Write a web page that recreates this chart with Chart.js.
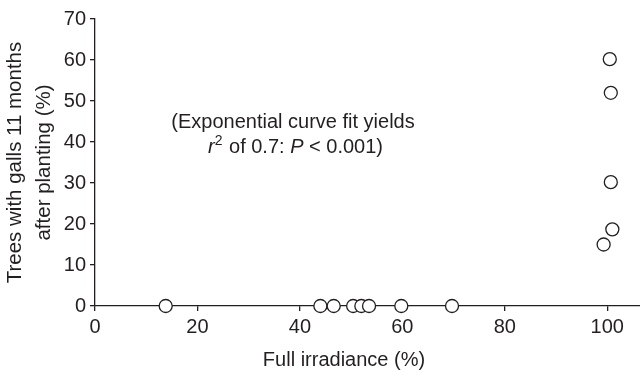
<!DOCTYPE html>
<html>
<head>
<meta charset="utf-8">
<script src="https://cdn.jsdelivr.net/npm/chart.js@4"></script>
<style>
  html, body { margin: 0; padding: 0; background: #fff; }
  #wrap { width: 640px; height: 371px; }
</style>
</head>
<body>
<div id="wrap"><canvas id="c" width="640" height="371"></canvas></div>
<script>
// Full irradiance (%) at each planting site
const irradiance = [13.8, 44.0, 46.6, 50.4, 52.0, 53.5, 59.8, 69.7, 100.5, 100.7, 100.7, 101.0, 99.3];
// Trees with galls 11 months after planting (%)
const gallPct    = [0, 0, 0, 0, 0, 0, 0, 0, 60.2, 52.0, 30.2, 18.7, 15.0];
const xTicks = [0, 20, 40, 60, 80, 100];
const yTicks = [0, 10, 20, 30, 40, 50, 60, 70];

const INK = '#231f20';
const FONT = 'Liberation Sans, Arial, Helvetica, sans-serif';

const points = irradiance.map((x, i) => ({ x: x, y: gallPct[i] }));

// Annotation text and x-axis title drawn on the canvas
const notes = {
  id: 'notes',
  afterDraw(chart) {
    const ctx = chart.ctx;
    ctx.save();
    ctx.fillStyle = INK;
    ctx.textBaseline = 'alphabetic';

    // line 1
    ctx.font = '20px ' + FONT;
    ctx.textAlign = 'center';
    ctx.fillText('(Exponential curve fit yields', 293, 128);

    // line 2: r² of 0.7: P < 0.001)
    const parts = [
      { t: 'r', f: 'italic 20px ' + FONT, dy: 0 },
      { t: '2', f: '14px ' + FONT, dy: -8 },
      { t: ' of 0.7: ', f: '20px ' + FONT, dy: 0 },
      { t: 'P', f: 'italic 20px ' + FONT, dy: 0 },
      { t: ' < 0.001)', f: '20px ' + FONT, dy: 0 }
    ];
    let x = 208;
    ctx.textAlign = 'left';
    parts.forEach(p => {
      ctx.font = p.f;
      ctx.fillText(p.t, x, 153 + p.dy);
      x += ctx.measureText(p.t).width + (p.t === '2' ? 1 : 0);
    });

    // x-axis title
    ctx.font = '20px ' + FONT;
    ctx.textAlign = 'center';
    ctx.fillText('Full irradiance (%)', 344, 366);
    ctx.restore();
  }
};

new Chart(document.getElementById('c'), {
  type: 'scatter',
  data: {
    datasets: [{
      data: points,
      pointRadius: 6.5,
      pointHoverRadius: 6.5,
      pointBorderWidth: 1.3,
      borderColor: INK,
      backgroundColor: '#ffffff',
      clip: false
    }]
  },
  options: {
    responsive: false,
    animation: false,
    events: [],
    layout: { autoPadding: false, padding: { top: 19, right: 0, left: 0, bottom: 0 } },
    plugins: { legend: { display: false }, tooltip: { enabled: false } },
    scales: {
      x: {
        type: 'linear',
        min: 0,
        max: 106.4,
        afterBuildTicks(scale) { scale.ticks = xTicks.map(v => ({ value: v })); },
        afterFit(scale) { scale.height = 65; },
        border: { display: true, color: INK, width: 1.3 },
        grid: { drawOnChartArea: false, drawTicks: true, tickLength: 5, color: INK, lineWidth: 1.3 },
        ticks: { color: INK, font: { family: FONT, size: 20 }, padding: 4, maxRotation: 0, autoSkip: false },
        title: { display: false }
      },
      y: {
        type: 'linear',
        min: 0,
        max: 70,
        afterBuildTicks(scale) { scale.ticks = yTicks.map(v => ({ value: v })); },
        afterFit(scale) { scale.width = 95; },
        border: { display: true, color: INK, width: 1.3 },
        grid: { drawOnChartArea: false, drawTicks: true, tickLength: 5, color: INK, lineWidth: 1.3 },
        ticks: { color: INK, font: { family: FONT, size: 20 }, padding: 4, autoSkip: false },
        title: {
          display: true,
          text: ['Trees with galls 11 months', 'after planting (%)'],
          color: INK,
          font: { family: FONT, size: 20.5, lineHeight: 1.45 },
          padding: { top: 0, bottom: 0 }
        }
      }
    }
  },
  plugins: [notes]
});
</script>
</body>
</html>
